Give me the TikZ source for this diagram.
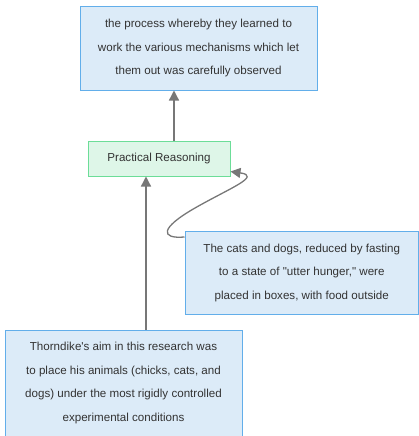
\documentclass[tikz,border=0pt]{standalone}
\usepackage{fontspec}
\setmainfont{Liberation Sans}
\usetikzlibrary{arrows.meta}
\definecolor{bluefill}{HTML}{DCEBF8}
\definecolor{blueline}{HTML}{62AEEA}
\definecolor{greenfill}{HTML}{DEF6E8}
\definecolor{greenline}{HTML}{6CDD98}
\definecolor{txt}{HTML}{333333}
\definecolor{arrowgrey}{HTML}{777777}
\tikzset{
  bluebox/.style={draw=blueline, fill=bluefill, line width=1pt, inner sep=0pt,
    align=center, text=txt, font=\fontsize{11.6}{23.5}\selectfont},
  greenbox/.style={draw=greenline, fill=greenfill, line width=1pt, inner sep=0pt,
    align=center, text=txt, font=\fontsize{11.6}{13}\selectfont},
  arr/.style={draw=arrowgrey, line width=1.3pt, -{Triangle[length=10pt,width=10pt]}}
}
\begin{document}
\begin{tikzpicture}[x=1pt,y=-1pt]
\useasboundingbox (0,0) rectangle (419,436);
\node[bluebox, minimum width=237pt, minimum height=83pt] (top) at (198.5,48.5)
  {the process whereby they learned to\\work the various mechanisms which let\\them out was carefully observed};
\node[greenbox, minimum width=142pt, minimum height=35pt] (pr) at (159,158.5) {Practical Reasoning};
\node[bluebox, minimum width=233.5pt, minimum height=83pt] (cats) at (301.75,272.5)
  {The cats and dogs, reduced by fasting\\to a state of \textquotedbl utter hunger,\textquotedbl{} were\\placed in boxes, with food outside};
\node[bluebox, minimum width=237pt, minimum height=106pt] (aim) at (123.5,383)
  {Thorndike\textquotesingle s aim in this research was\\to place his animals (chicks, cats, and\\dogs) under the most rigidly controlled\\experimental conditions};
\draw[arr] ([xshift=15pt]pr.north) -- ([xshift=15pt]pr.north |- top.south);
\draw[arr] ([xshift=22.5pt]aim.north) -- ([xshift=22.5pt]aim.north |- pr.south);
\coordinate (cs) at ([yshift=35.5pt]cats.west);
\coordinate (ce) at ([yshift=-13pt]pr.east);
\draw[arr] (cs) .. controls (160,239) and (160,228) .. (195,208)
  .. controls (230,188) and (262,176) .. (ce);
\end{tikzpicture}
\end{document}
